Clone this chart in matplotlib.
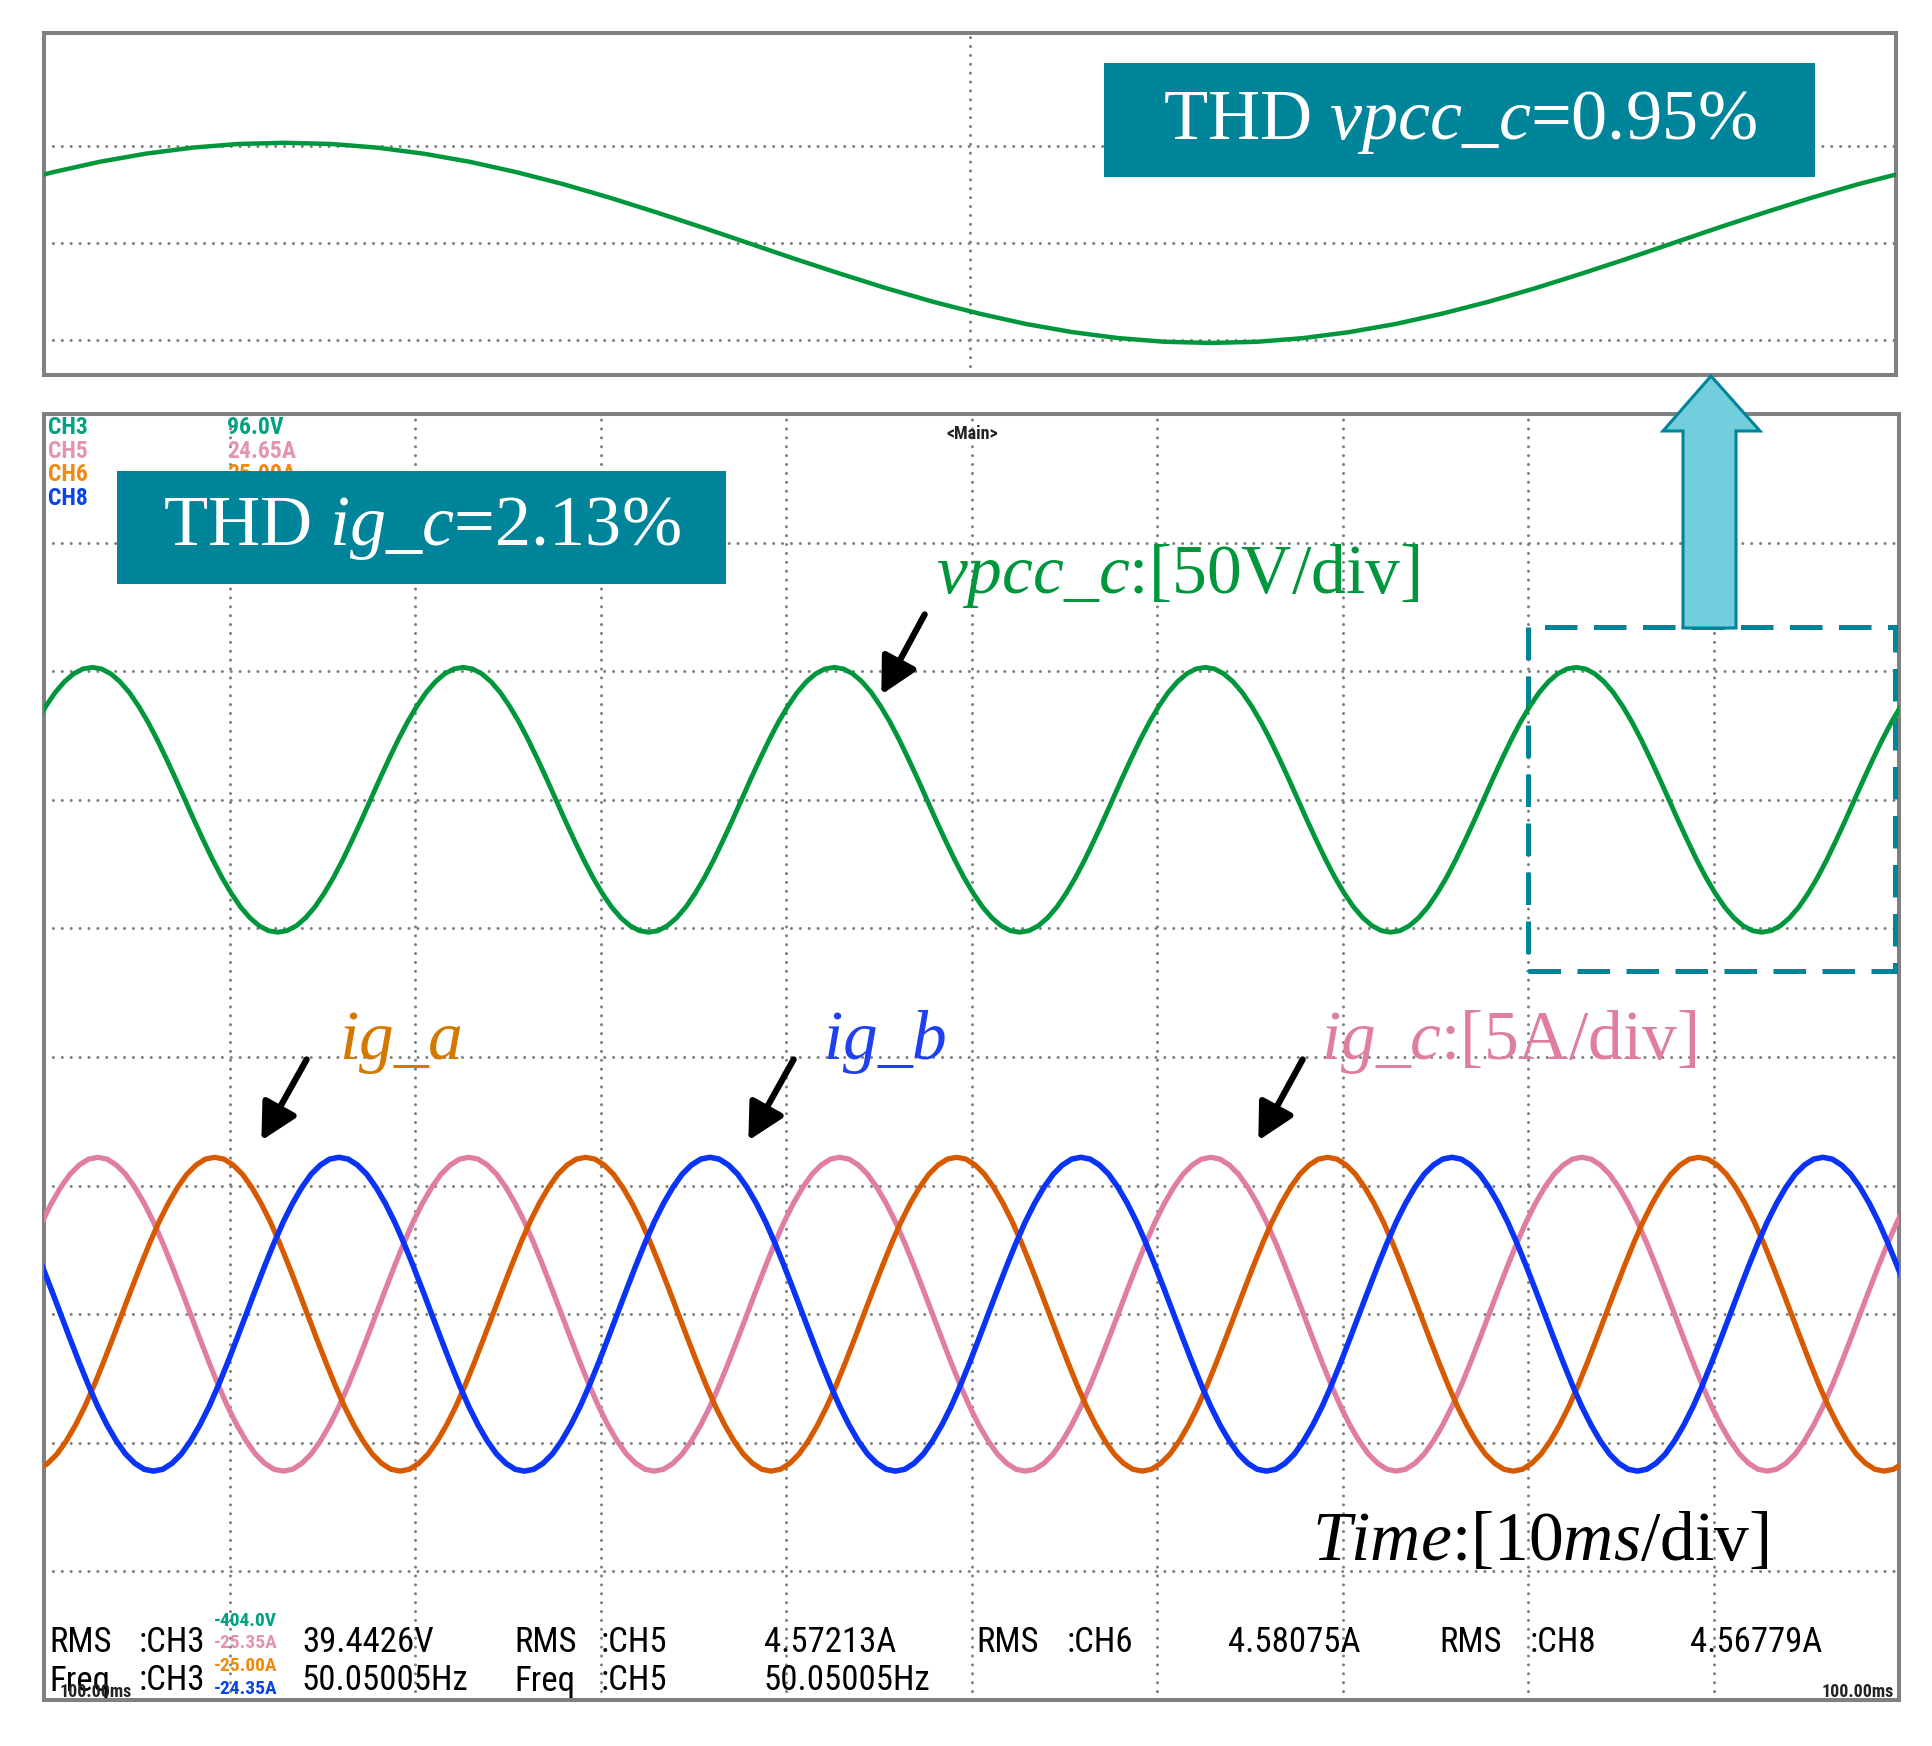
import numpy as np
import matplotlib
matplotlib.use("Agg")
import matplotlib.pyplot as plt
from matplotlib import font_manager as fm
from matplotlib.patches import Rectangle, Polygon, FancyArrowPatch

# ------------------------------------------------------------------
# Data read from the oscilloscope capture (0.5 ms sampling)
# ------------------------------------------------------------------
sample_ms = 0.5
t0_vpcc = -0.4   # ms, time of the first sample of each trace
t0_ig_a = -0.8
t0_ig_b = -0.1
t0_ig_c = -0.1

vpcc_c_V = [
    30.3, 36.4, 41.7, 45.9, 49.0, 50.9, 51.5, 50.9, 49.0, 45.9, 41.7, 36.4, 30.3, 23.4, 15.9, 8.1, 0.0, -8.1, -15.9, -23.4,
    -30.3, -36.4, -41.7, -45.9, -49.0, -50.9, -51.5, -50.9, -49.0, -45.9, -41.7, -36.4, -30.3, -23.4, -15.9, -8.1, 0.0, 8.1, 15.9, 23.4,
    30.3, 36.4, 41.7, 45.9, 49.0, 50.9, 51.5, 50.9, 49.0, 45.9, 41.7, 36.4, 30.3, 23.4, 15.9, 8.1, 0.0, -8.1, -15.9, -23.4,
    -30.3, -36.4, -41.7, -45.9, -49.0, -50.9, -51.5, -50.9, -49.0, -45.9, -41.7, -36.4, -30.3, -23.4, -15.9, -8.1, 0.0, 8.1, 15.9, 23.4,
    30.3, 36.4, 41.7, 45.9, 49.0, 50.9, 51.5, 50.9, 49.0, 45.9, 41.7, 36.4, 30.3, 23.4, 15.9, 8.1, 0.0, -8.1, -15.9, -23.4,
    -30.3, -36.4, -41.7, -45.9, -49.0, -50.9, -51.5, -50.9, -49.0, -45.9, -41.7, -36.4, -30.3, -23.4, -15.9, -8.1, 0.0, 8.1, 15.9, 23.4,
    30.3, 36.4, 41.7, 45.9, 49.0, 50.9, 51.5, 50.9, 49.0, 45.9, 41.7, 36.4, 30.3, 23.4, 15.9, 8.1, 0.0, -8.1, -15.9, -23.4,
    -30.3, -36.4, -41.7, -45.9, -49.0, -50.9, -51.5, -50.9, -49.0, -45.9, -41.7, -36.4, -30.3, -23.4, -15.9, -8.1, 0.0, 8.1, 15.9, 23.4,
    30.3, 36.4, 41.7, 45.9, 49.0, 50.9, 51.5, 50.9, 49.0, 45.9, 41.7, 36.4, 30.3, 23.4, 15.9, 8.1, 0.0, -8.1, -15.9, -23.4,
    -30.3, -36.4, -41.7, -45.9, -49.0, -50.9, -51.5, -50.9, -49.0, -45.9, -41.7, -36.4, -30.3, -23.4, -15.9, -8.1, 0.0, 8.1, 15.9, 23.4,
    30.3, 36.4, 41.7]

ig_a_A = [
    -6.10, -6.03, -5.80, -5.44, -4.93, -4.31, -3.59, -2.77, -1.88, -0.95, 0.00, 0.95, 1.88, 2.77, 3.59, 4.31, 4.93, 5.44, 5.80, 6.03,
    6.10, 6.03, 5.80, 5.44, 4.93, 4.31, 3.59, 2.77, 1.88, 0.95, 0.00, -0.95, -1.88, -2.77, -3.59, -4.31, -4.93, -5.44, -5.80, -6.03,
    -6.10, -6.03, -5.80, -5.44, -4.93, -4.31, -3.59, -2.77, -1.88, -0.95, 0.00, 0.95, 1.88, 2.77, 3.59, 4.31, 4.93, 5.44, 5.80, 6.03,
    6.10, 6.03, 5.80, 5.44, 4.93, 4.31, 3.59, 2.77, 1.88, 0.95, 0.00, -0.95, -1.88, -2.77, -3.59, -4.31, -4.93, -5.44, -5.80, -6.03,
    -6.10, -6.03, -5.80, -5.44, -4.93, -4.31, -3.59, -2.77, -1.88, -0.95, 0.00, 0.95, 1.88, 2.77, 3.59, 4.31, 4.93, 5.44, 5.80, 6.03,
    6.10, 6.03, 5.80, 5.44, 4.93, 4.31, 3.59, 2.77, 1.88, 0.95, 0.00, -0.95, -1.88, -2.77, -3.59, -4.31, -4.93, -5.44, -5.80, -6.03,
    -6.10, -6.03, -5.80, -5.44, -4.93, -4.31, -3.59, -2.77, -1.88, -0.95, 0.00, 0.95, 1.88, 2.77, 3.59, 4.31, 4.93, 5.44, 5.80, 6.03,
    6.10, 6.03, 5.80, 5.44, 4.93, 4.31, 3.59, 2.77, 1.88, 0.95, 0.00, -0.95, -1.88, -2.77, -3.59, -4.31, -4.93, -5.44, -5.80, -6.03,
    -6.10, -6.03, -5.80, -5.44, -4.93, -4.31, -3.59, -2.77, -1.88, -0.95, 0.00, 0.95, 1.88, 2.77, 3.59, 4.31, 4.93, 5.44, 5.80, 6.03,
    6.10, 6.03, 5.80, 5.44, 4.93, 4.31, 3.59, 2.77, 1.88, 0.95, 0.00, -0.95, -1.88, -2.77, -3.59, -4.31, -4.93, -5.44, -5.80, -6.03,
    -6.10, -6.03, -5.80]

ig_b_A = [
    1.88, 0.95, 0.00, -0.95, -1.88, -2.77, -3.59, -4.31, -4.93, -5.44, -5.80, -6.03, -6.10, -6.03, -5.80, -5.44, -4.93, -4.31, -3.59, -2.77,
    -1.88, -0.95, 0.00, 0.95, 1.88, 2.77, 3.59, 4.31, 4.93, 5.44, 5.80, 6.03, 6.10, 6.03, 5.80, 5.44, 4.93, 4.31, 3.59, 2.77,
    1.88, 0.95, 0.00, -0.95, -1.88, -2.77, -3.59, -4.31, -4.93, -5.44, -5.80, -6.03, -6.10, -6.03, -5.80, -5.44, -4.93, -4.31, -3.59, -2.77,
    -1.88, -0.95, 0.00, 0.95, 1.88, 2.77, 3.59, 4.31, 4.93, 5.44, 5.80, 6.03, 6.10, 6.03, 5.80, 5.44, 4.93, 4.31, 3.59, 2.77,
    1.88, 0.95, 0.00, -0.95, -1.88, -2.77, -3.59, -4.31, -4.93, -5.44, -5.80, -6.03, -6.10, -6.03, -5.80, -5.44, -4.93, -4.31, -3.59, -2.77,
    -1.88, -0.95, 0.00, 0.95, 1.88, 2.77, 3.59, 4.31, 4.93, 5.44, 5.80, 6.03, 6.10, 6.03, 5.80, 5.44, 4.93, 4.31, 3.59, 2.77,
    1.88, 0.95, 0.00, -0.95, -1.88, -2.77, -3.59, -4.31, -4.93, -5.44, -5.80, -6.03, -6.10, -6.03, -5.80, -5.44, -4.93, -4.31, -3.59, -2.77,
    -1.88, -0.95, 0.00, 0.95, 1.88, 2.77, 3.59, 4.31, 4.93, 5.44, 5.80, 6.03, 6.10, 6.03, 5.80, 5.44, 4.93, 4.31, 3.59, 2.77,
    1.88, 0.95, 0.00, -0.95, -1.88, -2.77, -3.59, -4.31, -4.93, -5.44, -5.80, -6.03, -6.10, -6.03, -5.80, -5.44, -4.93, -4.31, -3.59, -2.77,
    -1.88, -0.95, 0.00, 0.95, 1.88, 2.77, 3.59, 4.31, 4.93, 5.44, 5.80, 6.03, 6.10, 6.03, 5.80, 5.44, 4.93, 4.31, 3.59, 2.77,
    1.88, 0.95, 0.00]

ig_c_A = [
    3.59, 4.31, 4.93, 5.44, 5.80, 6.03, 6.10, 6.03, 5.80, 5.44, 4.93, 4.31, 3.59, 2.77, 1.88, 0.95, 0.00, -0.95, -1.88, -2.77,
    -3.59, -4.31, -4.93, -5.44, -5.80, -6.03, -6.10, -6.03, -5.80, -5.44, -4.93, -4.31, -3.59, -2.77, -1.88, -0.95, 0.00, 0.95, 1.88, 2.77,
    3.59, 4.31, 4.93, 5.44, 5.80, 6.03, 6.10, 6.03, 5.80, 5.44, 4.93, 4.31, 3.59, 2.77, 1.88, 0.95, 0.00, -0.95, -1.88, -2.77,
    -3.59, -4.31, -4.93, -5.44, -5.80, -6.03, -6.10, -6.03, -5.80, -5.44, -4.93, -4.31, -3.59, -2.77, -1.88, -0.95, 0.00, 0.95, 1.88, 2.77,
    3.59, 4.31, 4.93, 5.44, 5.80, 6.03, 6.10, 6.03, 5.80, 5.44, 4.93, 4.31, 3.59, 2.77, 1.88, 0.95, 0.00, -0.95, -1.88, -2.77,
    -3.59, -4.31, -4.93, -5.44, -5.80, -6.03, -6.10, -6.03, -5.80, -5.44, -4.93, -4.31, -3.59, -2.77, -1.88, -0.95, 0.00, 0.95, 1.88, 2.77,
    3.59, 4.31, 4.93, 5.44, 5.80, 6.03, 6.10, 6.03, 5.80, 5.44, 4.93, 4.31, 3.59, 2.77, 1.88, 0.95, 0.00, -0.95, -1.88, -2.77,
    -3.59, -4.31, -4.93, -5.44, -5.80, -6.03, -6.10, -6.03, -5.80, -5.44, -4.93, -4.31, -3.59, -2.77, -1.88, -0.95, 0.00, 0.95, 1.88, 2.77,
    3.59, 4.31, 4.93, 5.44, 5.80, 6.03, 6.10, 6.03, 5.80, 5.44, 4.93, 4.31, 3.59, 2.77, 1.88, 0.95, 0.00, -0.95, -1.88, -2.77,
    -3.59, -4.31, -4.93, -5.44, -5.80, -6.03, -6.10, -6.03, -5.80, -5.44, -4.93, -4.31, -3.59, -2.77, -1.88, -0.95, 0.00, 0.95, 1.88, 2.77,
    3.59, 4.31, 4.93]

# scope settings
time_per_div_ms = 10
volt_per_div = 50
amp_per_div = 5
n_div = 10
zoom_window_ms = (80, 100)

# text content
thd_vpcc = "0.95%"
thd_ig = "2.13%"
header_channels = ["CH3", "CH5", "CH6", "CH8"]
header_values = ["96.0V", "24.65A", "25.00A", ""]
bottom_small = ["-404.0V", "-25.35A", "-25.00A", "-24.35A"]
meas_row1 = ["RMS", ":CH3", "39.4426V", "RMS", ":CH5", "4.57213A", "RMS", ":CH6", "4.58075A", "RMS", ":CH8", "4.56779A"]
meas_row2 = ["Freq", ":CH3", "50.05005Hz", "Freq", ":CH5", "50.05005Hz"]

# ------------------------------------------------------------------
# Styling
# ------------------------------------------------------------------
plt.rcParams["font.family"] = ["Liberation Serif", "DejaVu Sans"]
plt.rcParams["mathtext.fontset"] = "custom"
plt.rcParams["mathtext.rm"] = "Liberation Serif"
plt.rcParams["mathtext.it"] = "Liberation Serif:italic"
plt.rcParams["mathtext.bf"] = "Liberation Serif:bold"

# pick a narrow sans face for the scope read-outs if one is installed
_entries = fm.fontManager.ttflist
_names = {f.name for f in _entries}
SCOPE_FAMILY = "Liberation Sans"
SCOPE_STRETCH = "normal"
for cand in ["Liberation Sans Narrow", "Roboto Condensed", "DejaVu Sans Condensed",
             "Noto Sans Condensed", "Open Sans Condensed"]:
    if cand in _names:
        SCOPE_FAMILY = cand
        break
else:
    for f in _entries:
        if f.stretch in ("condensed", "semi-condensed", "extra-condensed") and \
                f.name in ("DejaVu Sans", "Noto Sans", "Roboto", "Open Sans", "Liberation Sans"):
            SCOPE_FAMILY = f.name
            SCOPE_STRETCH = f.stretch
            break
SCOPE_FONT = [SCOPE_FAMILY, "DejaVu Sans"]
NARROW = SCOPE_FAMILY != "Liberation Sans"

W, H = 1932, 1746
fig = plt.figure(figsize=(W / 100, H / 100), dpi=100)
fig.patch.set_facecolor("white")


def fx(x):
    return x / W


def fy(y):
    return 1 - y / H


GREEN = "#00963c"
ORANGE = "#d75a00"
BLUE = "#0a34f5"
PINK = "#e07ea2"
TEAL = "#00849a"
FRAME = "#808080"
GRIDC = "#808080"

grid_kw = dict(color=GRIDC, lw=2.2, linestyle=(0, (0.01, 2.9)), dash_capstyle="round", zorder=1)


def frame(ax):
    for s in ax.spines.values():
        s.set_color(FRAME)
        s.set_linewidth(2.9)
    ax.set_xticks([])
    ax.set_yticks([])


def scope_text(x, y, s, size, color="black", weight="normal", ha="left"):
    fig.text(fx(x), fy(y), s, fontsize=size, family=SCOPE_FONT, stretch=SCOPE_STRETCH,
             fontweight=weight, color=color, ha=ha, va="center", zorder=2)


t_vpcc = t0_vpcc + sample_ms * np.arange(len(vpcc_c_V))
t_a = t0_ig_a + sample_ms * np.arange(len(ig_a_A))
t_b = t0_ig_b + sample_ms * np.arange(len(ig_b_A))
t_c = t0_ig_c + sample_ms * np.arange(len(ig_c_A))

# ------------------------------------------------------------------
# Top (zoomed) panel
# ------------------------------------------------------------------
ax_top = fig.add_axes([fx(44), fy(375), (1896 - 44) / W, (375 - 33) / H])
ax_top.set_xlim(*zoom_window_ms)
ax_top.set_ylim(-68, 108)
for yv in (-volt_per_div, 0, volt_per_div):
    ax_top.axhline(yv, **grid_kw)
ax_top.axvline(sum(zoom_window_ms) / 2, **grid_kw)
ax_top.plot(t_vpcc, vpcc_c_V, color=GREEN, lw=3.2, solid_joinstyle="round", zorder=3)
frame(ax_top)

# ------------------------------------------------------------------
# Main oscilloscope panel
# ------------------------------------------------------------------
rect_main = [fx(44), fy(1700), (1899 - 44) / W, (1700 - 414) / H]
ax_main = fig.add_axes(rect_main)
ax_main.set_xlim(0, n_div * time_per_div_ms)
ax_main.set_ylim(0, n_div)
for k in range(1, n_div):
    ax_main.axhline(k, **grid_kw)
    ax_main.axvline(k * time_per_div_ms, **grid_kw)
frame(ax_main)

# currents axis (centre at 3 div from bottom)
ax_i = fig.add_axes(rect_main, sharex=ax_main)
ax_i.set_ylim(-3 * amp_per_div, 7 * amp_per_div)
ax_i.patch.set_visible(False)
ax_i.axis("off")
ax_i.plot(t_c, ig_c_A, color=PINK, lw=3.8, solid_joinstyle="round")
ax_i.plot(t_a, ig_a_A, color=ORANGE, lw=3.8, solid_joinstyle="round")
ax_i.plot(t_b, ig_b_A, color=BLUE, lw=4.0, solid_joinstyle="round")

# voltage axis (centre at 7 div from bottom)
ax_v = fig.add_axes(rect_main, sharex=ax_main)
ax_v.set_ylim(-7 * volt_per_div, 3 * volt_per_div)
ax_v.patch.set_visible(False)
ax_v.axis("off")
ax_v.plot(t_vpcc, vpcc_c_V, color=GREEN, lw=3.5, solid_joinstyle="round")

# dashed zoom rectangle
ax_main.add_patch(Rectangle((zoom_window_ms[0], 5.67), 19.8, 2.67, fill=False, ec=TEAL,
                            lw=3.6, linestyle=(0, (6.5, 3.3)), clip_on=False, zorder=5))

# ------------------------------------------------------------------
# Scope header / footer text
# ------------------------------------------------------------------
hdr_cols = ["#00a283", "#e493b0", "#f08a10", "#0a46e6"]
hsz = 17 if NARROW else 15
for i, (ch, val, c) in enumerate(zip(header_channels, header_values, hdr_cols)):
    yy = 428 + i * 23.5
    scope_text(48, yy, ch, hsz, color=c, weight="bold")
    if val:
        scope_text(227, yy, val, hsz, color=c, weight="bold")

scope_text(972, 434, "<Main>", 13, color="#222222", weight="bold", ha="center")

msz = 25 if NARROW else 22
row1_x = [49, 139, 302, 514, 601, 764, 976, 1067, 1228, 1439, 1530, 1690]
row2_x = [49, 139, 302, 514, 601, 764]
for s, x in zip(meas_row1, row1_x):
    scope_text(x, 1643, s, msz)
for s, x in zip(meas_row2, row2_x):
    scope_text(x, 1681, s, msz)
for i, (s, c) in enumerate(zip(bottom_small, hdr_cols)):
    scope_text(214, 1621 + i * 22.5, s, 14, color=c, weight="bold")
scope_text(60, 1692, "100.00ms", 13, color="#222222", weight="bold")
scope_text(1894, 1692, "100.00ms", 13, color="#222222", weight="bold", ha="right")

# ------------------------------------------------------------------
# THD boxes
# ------------------------------------------------------------------
fig.add_artist(Rectangle((fx(1104), fy(177)), (1815 - 1104) / W, (177 - 63) / H,
                         transform=fig.transFigure, fc=TEAL, ec="none", zorder=10))
fig.text(fx(1460), fy(122), r"THD $\mathit{vpcc\_c}$=" + thd_vpcc, color="white", fontsize=52,
         ha="center", va="center", zorder=11)
fig.add_artist(Rectangle((fx(117), fy(584)), (726 - 117) / W, (584 - 471) / H,
                         transform=fig.transFigure, fc=TEAL, ec="none", zorder=10))
fig.text(fx(422), fy(529), r"THD $\mathit{ig\_c}$=" + thd_ig, color="white", fontsize=52,
         ha="center", va="center", zorder=11)

# ------------------------------------------------------------------
# Channel labels
# ------------------------------------------------------------------
fig.text(fx(936), fy(593), r"$\mathit{vpcc\_c}$:[50V/div]", color=GREEN, fontsize=50,
         ha="left", va="baseline", zorder=12)
fig.text(fx(339), fy(1059), r"$\mathit{ig\_a}$", color="#d57800", fontsize=50,
         ha="left", va="baseline", zorder=12)
fig.text(fx(823), fy(1059), r"$\mathit{ig\_b}$", color="#1f40ee", fontsize=50,
         ha="left", va="baseline", zorder=12)
fig.text(fx(1321), fy(1059), r"$\mathit{ig\_c}$:[5A/div]", color=PINK, fontsize=50,
         ha="left", va="baseline", zorder=12)
fig.text(fx(1312), fy(1560), r"$\mathit{Time}$:[10$\mathit{ms}$/div]", color="black", fontsize=50,
         ha="left", va="baseline", zorder=12)

# black pointer arrows
for (x0, y0), (x1, y1) in [((926, 612), (880, 697)), ((308, 1057), (260, 1143)),
                           ((795, 1057), (747, 1143)), ((1304, 1057), (1257, 1143))]:
    fig.add_artist(FancyArrowPatch((fx(x0), fy(y0)), (fx(x1), fy(y1)), transform=fig.transFigure,
                                   arrowstyle="-|>,head_length=1.05,head_width=0.55", mutation_scale=21,
                                   color="black", lw=4.5, zorder=12))

# big upward block arrow
pts = [(1683, 628), (1736, 628), (1736, 431), (1760, 431), (1711, 376), (1663, 431), (1683, 431)]
fig.add_artist(Polygon([(fx(x), fy(y)) for x, y in pts], closed=True, transform=fig.transFigure,
                       fc="#72cddd", ec=TEAL, lw=2.2, zorder=9))

fig.savefig("out.png", dpi=100, facecolor="white")
